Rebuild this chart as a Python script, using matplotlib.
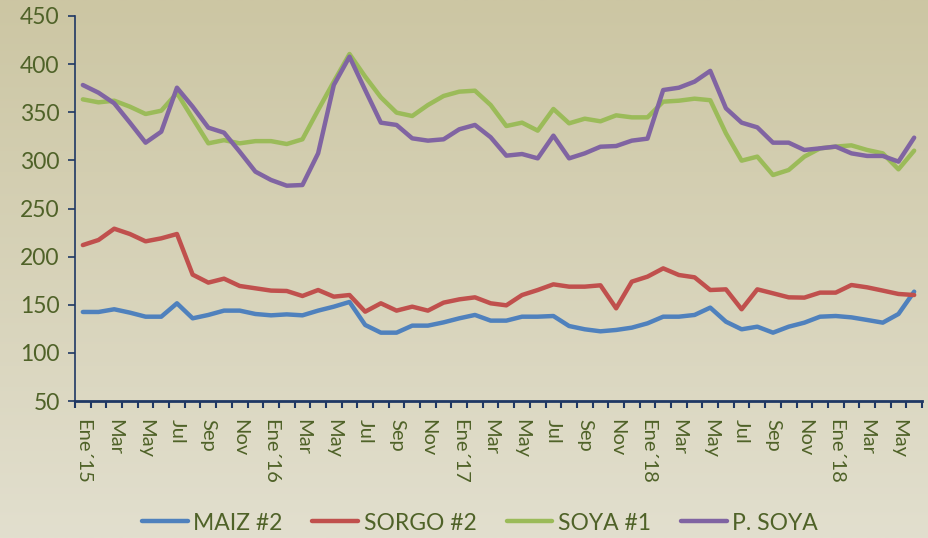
import matplotlib
matplotlib.use("Agg")
import matplotlib.pyplot as plt
import numpy as np
from matplotlib.colors import LinearSegmentedColormap

months = ["Ene´15","Feb","Mar","Abr","May","Jun","Jul","Ago","Sep","Oct","Nov","Dic",
          "Ene´16","Feb","Mar","Abr","May","Jun","Jul","Ago","Sep","Oct","Nov","Dic",
          "Ene´17","Feb","Mar","Abr","May","Jun","Jul","Ago","Sep","Oct","Nov","Dic",
          "Ene´18","Feb","Mar","Abr","May","Jun","Jul","Ago","Sep","Oct","Nov","Dic",
          "Ene´18","Feb","Mar","Abr","May","Jun"]

maiz = [142.5,142.5,145.3,141.8,137.6,137.6,151.5,135.9,139.4,143.9,143.9,140.4,139,140,
        139,143.9,148,152.9,129,121,121,128.3,128.3,131.7,135.9,139.4,133.5,
        133.5,137.6,137.6,138.3,127.9,124.5,122.4,123.8,126.2,130.7,137.6,137.6,139.4,147,
        132.4,124.5,127.2,121,127.2,131.4,137.6,138.3,136.9,134.2,131.4,140.4,163.6]
sorgo = [212,217.3,229,223.5,215.9,219,223.5,181.3,173,177.1,169.5,167.1,164.7,164.3,
         159.1,165.3,158.4,160.1,142.8,151.5,143.9,148,143.9,152.2,155.6,157.7,151.5,
         149.4,160.1,165.3,171.2,168.8,168.8,170.2,146.3,174,179.2,187.8,180.9,178.5,165.3,
         166,145.3,166,161.9,157.7,157.4,162.6,162.6,170.5,168.1,164.7,161.2,160.1]
soya = [363.4,360.3,362,355.8,348.2,351.6,370,343.7,317.7,321,317.7,320,320,317,
        321.9,352.3,381.8,410.5,387,365.5,349.6,346.1,357.5,366.9,371.4,372.4,357.5,
        335.7,339.2,330.9,353.4,338.5,343.3,340.6,346.8,344.7,344.7,361,362,364.1,362.5,
        328.1,299.7,303.9,284.8,290,303.9,312.5,314.3,315.6,310.8,307.3,290.7,310.1]
psoya = [378.3,370.3,359.3,339.2,318.4,329.8,375.5,355.8,334,328.8,309,288.3,279.6,273.7,
         274.4,307.3,378.3,407.7,373.1,339.2,336.8,322.9,320.5,321.9,332.3,336.8,324,
         304.9,306.6,302.1,325.7,302.1,307.3,314.2,314.9,320.5,322.6,373.1,375.5,381.8,393,
         354.1,339.2,334.3,318.4,318.4,310.8,312.5,314.3,307.3,304.6,304.6,298.7,323.6]

series_names = ["MAIZ #2", "SORGO #2", "SOYA #1", "P. SOYA"]
colors = ["#4F81BD", "#C0504D", "#9BBB59", "#8064A2"]
yticks = [50, 100, 150, 200, 250, 300, 350, 400, 450]

plt.rcParams['font.family'] = ['Lato', 'DejaVu Sans']
text_color = "#4F6228"
axis_color = "#1F3864"

fig = plt.figure(figsize=(9.29, 5.38), dpi=100)
bg = fig.add_axes([0, 0, 1, 1], zorder=-10)
grad = np.linspace(0, 1, 256).reshape(-1, 1)
cmap = LinearSegmentedColormap.from_list("bg", ["#CCC6A3", "#E2DFCE"])
bg.imshow(grad, aspect="auto", cmap=cmap, extent=[0, 1, 0, 1], origin="upper")
bg.axis("off")

ax = fig.add_axes([75/929, 1-401/538, (922-75)/929, (401-16)/538])
ax.patch.set_alpha(0)
x = np.arange(len(months))
for vals, name, c in zip([maiz, sorgo, soya, psoya], series_names, colors):
    ax.plot(x, vals, color=c, lw=3.2, label=name, solid_joinstyle="round", solid_capstyle="round")

ax.set_xlim(-0.5, len(months) - 0.5)
ax.set_ylim(50, 450)
ax.set_yticks(yticks)
ax.set_yticklabels([str(v) for v in yticks], fontsize=16.5, color=text_color)

ax.set_xticks(np.arange(len(months) + 1) - 0.5)
ax.set_xticklabels([])
ax.set_xticks(x[::2], minor=True)
ax.set_xticklabels(months[::2], minor=True, rotation=-90, fontsize=14.5, color=text_color, va="top", ha="center")
ax.tick_params(axis="x", which="major", direction="out", length=5, width=1.5, color=axis_color)
ax.tick_params(axis="x", which="minor", length=0, pad=13)
ax.tick_params(axis="y", direction="out", length=5, width=1.2, color=axis_color, pad=6)

for s in ["top", "right"]:
    ax.spines[s].set_visible(False)
ax.spines["left"].set_color(axis_color)
ax.spines["left"].set_linewidth(1.2)
ax.spines["bottom"].set_color(axis_color)
ax.spines["bottom"].set_linewidth(2)

leg = fig.legend(loc="center", bbox_to_anchor=(480/929, 1-523/538), ncol=4, frameon=False,
                 fontsize=16.5, handlelength=2.0, columnspacing=1.3, handletextpad=0.25)
for t in leg.get_texts():
    t.set_color(text_color)

fig.savefig("out.png", dpi=100)
